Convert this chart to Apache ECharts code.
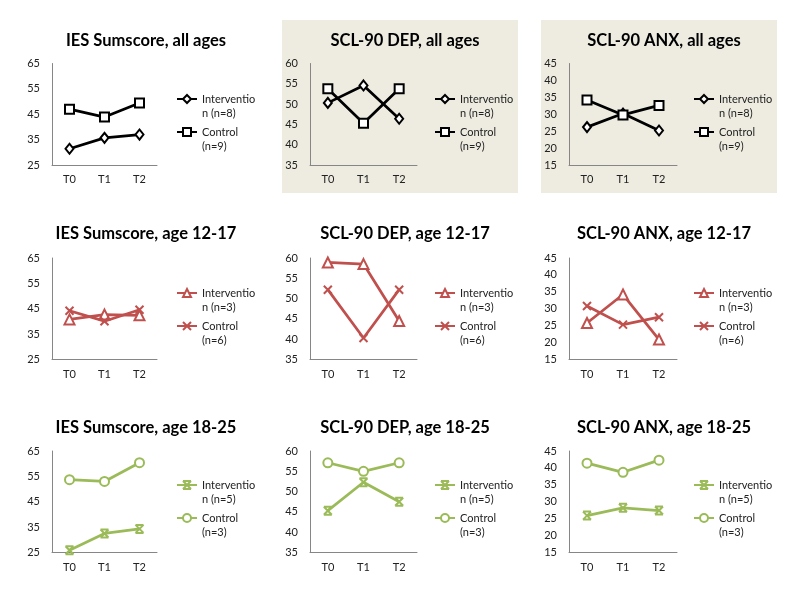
<!DOCTYPE html>
<html>
<head>
<meta charset="utf-8">
<script src="https://cdn.jsdelivr.net/npm/echarts@6/dist/echarts.min.js"></script>
<style>html,body{margin:0;padding:0;background:#fff}#c{width:800px;height:600px}</style>
</head>
<body>
<div id="c"></div>
<script>
// ---- data ----
var categories = ['T0', 'T1', 'T2'];
var titles = [
  'IES Sumscore, all ages', 'SCL-90 DEP, all ages', 'SCL-90 ANX, all ages',
  'IES Sumscore, age 12-17', 'SCL-90 DEP, age 12-17', 'SCL-90 ANX, age 12-17',
  'IES Sumscore, age 18-25', 'SCL-90 DEP, age 18-25', 'SCL-90 ANX, age 18-25'
];
var interventionNames = ['Interventio\nn (n=8)', 'Interventio\nn (n=3)', 'Interventio\nn (n=5)'];
var controlNames = ['Control\n(n=9)', 'Control\n(n=6)', 'Control\n(n=3)'];

var iesAllInt = [31.4, 35.7, 37.0];
var iesAllCtl = [47.0, 43.9, 49.4];
var depAllInt = [50.3, 54.6, 46.4];
var depAllCtl = [53.8, 45.3, 53.8];
var anxAllInt = [26.2, 30.2, 25.2];
var anxAllCtl = [34.2, 29.8, 32.6];

var ies1217Int = [40.8, 42.7, 42.4];
var ies1217Ctl = [44.2, 40.1, 44.6];
var dep1217Int = [58.9, 58.5, 44.5];
var dep1217Ctl = [52.2, 40.3, 52.2];
var anx1217Int = [25.8, 34.2, 20.9];
var anx1217Ctl = [30.8, 25.3, 27.5];

var ies1825Int = [25.9, 32.5, 34.3];
var ies1825Ctl = [53.7, 53.0, 60.4];
var dep1825Int = [45.3, 52.3, 47.5];
var dep1825Ctl = [57.1, 55.0, 57.1];
var anx1825Int = [25.9, 28.2, 27.4];
var anx1825Ctl = [41.4, 38.7, 42.3];

// y axis tick ranges [min, max, step] for IES, DEP, ANX
var iesTicks = [25, 65, 10];
var depTicks = [35, 60, 5];
var anxTicks = [15, 45, 5];

var intData = [iesAllInt, depAllInt, anxAllInt, ies1217Int, dep1217Int, anx1217Int, ies1825Int, dep1825Int, anx1825Int];
var ctlData = [iesAllCtl, depAllCtl, anxAllCtl, ies1217Ctl, dep1217Ctl, anx1217Ctl, ies1825Ctl, dep1825Ctl, anx1825Ctl];
var tickSets = [iesTicks, depTicks, anxTicks];

// ---- styling / layout ----
var FONT = 'Lato';
var rowColors = ['#000000', '#C0504D', '#9BBB59'];
var xPath = 'path://M0,0L10,10M10,0L0,10';
var starPath = 'path://M0,0L10,10M10,0L0,10M0,0L10,0M0,10L10,10';
var intSymbols = [
  {symbol: 'diamond', size: [8, 10]},
  {symbol: 'triangle', size: 10},
  {symbol: starPath, size: 8}
];
var ctlSymbols = [
  {symbol: 'rect', size: 9},
  {symbol: xPath, size: 8},
  {symbol: 'circle', size: 9}
];
var colGrid = [[52, 105], [310, 107], [569, 108]];
var rowGrid = [63.5, 258, 451];
var gridH = 101.5;
var titleX = [141, 400, 659];
var titleY = [27, 220, 414];
var legendX = [176, 434, 693];
var legendY = [78, 272, 464];

var option = {
  animation: false,
  textStyle: {fontFamily: FONT},
  graphic: [
    {type: 'rect', z: -10, shape: {x: 282, y: 20, width: 236, height: 173}, style: {fill: '#EEECE1'}},
    {type: 'rect', z: -10, shape: {x: 541, y: 20, width: 236, height: 173}, style: {fill: '#EEECE1'}}
  ],
  title: [], grid: [], xAxis: [], yAxis: [], legend: [], series: []
};

for (var i = 0; i < 9; i++) {
  var r = Math.floor(i / 3), c = i % 3;
  var color = rowColors[r];
  var ticks = tickSets[c];
  option.title.push({
    text: titles[i], left: titleX[c], top: titleY[r], textAlign: 'center',
    textStyle: {fontFamily: FONT, fontWeight: 'bold', fontSize: 16.5, color: '#000'}
  });
  option.grid.push({left: colGrid[c][0], width: colGrid[c][1], top: rowGrid[r], height: gridH});
  option.xAxis.push({
    type: 'category', gridIndex: i, data: categories, boundaryGap: true,
    axisLine: {lineStyle: {color: '#868686', width: 1}}, axisTick: {show: false},
    axisLabel: {color: '#222', fontSize: 11, fontFamily: FONT, margin: 9}
  });
  option.yAxis.push({
    type: 'value', gridIndex: i, min: ticks[0], max: ticks[1], interval: ticks[2],
    axisLine: {show: true, lineStyle: {color: '#868686', width: 1}}, axisTick: {show: false},
    splitLine: {show: false},
    axisLabel: {color: '#222', fontSize: 11, fontFamily: FONT, margin: 12}
  });
  option.series.push({
    type: 'line', name: interventionNames[r], xAxisIndex: i, yAxisIndex: i,
    data: intData[i], symbol: intSymbols[r].symbol, symbolSize: intSymbols[r].size,
    showAllSymbol: true,
    lineStyle: {color: color, width: 2.75},
    itemStyle: {color: r === 2 ? color : '#fff', borderColor: color, borderWidth: 2}
  });
  option.series.push({
    type: 'line', name: controlNames[r], xAxisIndex: i, yAxisIndex: i,
    data: ctlData[i], symbol: ctlSymbols[r].symbol, symbolSize: ctlSymbols[r].size,
    showAllSymbol: true,
    lineStyle: {color: color, width: 2.75},
    itemStyle: {color: '#fff', borderColor: color, borderWidth: 2}
  });
  option.legend.push({
    data: [interventionNames[r], controlNames[r]],
    formatter: function (name) { return '\n' + name; },
    orient: 'vertical', left: legendX[c], top: legendY[r], padding: 0,
    itemWidth: 20, itemHeight: 10, itemGap: -9, selectedMode: false,
    textStyle: {fontFamily: FONT, fontSize: 11, color: '#222', lineHeight: 14}
  });
}

var chart = echarts.init(document.getElementById('c'), null, {renderer: 'canvas'});
chart.setOption(option);
</script>
</body>
</html>
